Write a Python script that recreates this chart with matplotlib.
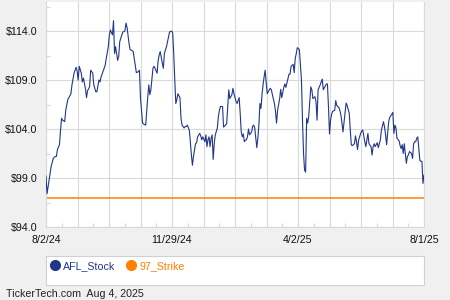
"""
AFL stock vs 97 strike chart
"""
import matplotlib
matplotlib.use('Agg')
import matplotlib.pyplot as plt
import numpy as np
from matplotlib.lines import Line2D
from matplotlib.patches import Rectangle

# position along the x axis, in days from 8/2/24
day = [0, 1, 3, 5, 7, 9, 10, 11, 13, 14, 15, 16, 18, 19, 21, 22, 24, 25, 27, 29,
       30, 31, 32, 34, 35, 36, 38, 39, 40, 42, 43, 45, 46, 48, 49, 51, 52, 53, 55, 57,
       58, 60, 61, 62, 64, 65, 66, 67, 69, 70, 71, 73, 74, 76, 77, 78, 80, 81, 83, 84,
       86, 87, 89, 90, 91, 93, 94, 96, 97, 98, 99, 100, 101, 103, 104, 105, 107, 108, 109, 110,
       112, 113, 114, 116, 117, 119, 121, 122, 123, 124, 125, 126, 127, 129, 130, 131, 133, 134, 135, 136,
       138, 139, 140, 141, 142, 144, 145, 146, 148, 149, 150, 151, 153, 154, 155, 156, 157, 158, 159, 160,
       161, 162, 163, 165, 166, 167, 168, 170, 171, 172, 174, 175, 176, 177, 179, 180, 181, 183, 184, 186,
       187, 188, 189, 190, 191, 192, 193, 194, 195, 196, 198, 199, 200, 201, 203, 204, 205, 206, 207, 208,
       209, 210, 211, 212, 213, 215, 216, 217, 218, 220, 221, 222, 223, 225, 226, 227, 229, 230, 231, 232,
       234, 235, 236, 238, 239, 240, 241, 242, 244, 246, 247, 248, 249, 250, 251, 252, 253, 254, 255, 256,
       257, 259, 260, 261, 262, 264, 265, 266, 267, 269, 270, 271, 272, 273, 274, 275, 276, 278, 279, 280,
       282, 283, 284, 285, 286, 288, 289, 290, 292, 293, 294, 295, 297, 298, 299, 300, 301, 303, 304, 305,
       307, 308, 309, 310, 311, 313, 314, 315, 316, 317, 319, 320, 321, 322, 323, 325, 326, 327, 328, 329,
       330, 331, 333, 334, 335, 336, 337, 338, 340, 341, 342, 343, 344, 345, 346, 347, 348, 349, 350, 352,
       353, 354, 355, 356, 357, 358, 360, 361, 362, 363, 364]

afl_stock = [99.2, 97.4, 98.8, 100.2, 101.0, 101.2, 101.2, 101.9, 102.4, 103.9,
             105.1, 104.9, 104.75, 105.9, 107.0, 107.2, 107.6, 108.5, 109.7, 110.3,
             109.9, 109.0, 110.4, 109.7, 108.8, 109.2, 108.1, 107.2, 107.9, 108.3,
             110.0, 109.7, 108.5, 107.8, 107.8, 109.0, 108.8, 109.3, 109.9, 110.5,
             111.2, 112.4, 113.6, 114.1, 113.6, 115.05, 111.7, 112.4, 111.0, 111.4,
             112.9, 113.6, 113.9, 114.0, 114.8, 114.4, 112.7, 112.1, 112.0, 111.9,
             110.5, 109.75, 109.85, 110.0, 107.1, 104.6, 104.5, 104.4, 105.9, 107.3,
             108.5, 107.5, 108.0, 110.2, 110.4, 110.2, 109.7, 111.0, 111.55, 111.9,
             110.7, 110.2, 111.7, 112.4, 112.9, 113.9, 114.0, 113.8, 111.7, 109.0,
             106.6, 107.0, 107.6, 107.2, 105.1, 104.4, 104.1, 104.25, 104.25, 104.4,
             103.9, 102.7, 101.35, 100.3, 101.2, 102.5, 102.6, 103.2, 103.55, 103.3,
             102.9, 103.2, 102.7, 103.4, 102.2, 102.9, 103.2, 102.2, 103.05, 103.4,
             100.9, 102.5, 103.4, 104.1, 105.3, 105.9, 106.3, 106.3, 104.2, 104.3,
             104.55, 106.3, 108.0, 107.1, 107.5, 108.15, 107.6, 106.8, 106.6, 107.2,
             105.6, 103.7, 103.2, 103.5, 102.7, 102.85, 102.9, 103.2, 104.0, 103.4,
             103.7, 104.3, 104.4, 104.1, 102.1, 103.05, 104.4, 106.6, 106.1, 107.5,
             108.5, 109.3, 110.0, 108.85, 107.6, 108.0, 108.15, 108.0, 107.5, 106.6,
             105.8, 104.6, 105.9, 107.1, 108.05, 107.2, 108.25, 108.6, 108.25, 108.7,
             109.6, 109.6, 110.4, 110.6, 109.75, 111.2, 111.7, 112.3, 112.1, 109.0,
             104.9, 101.5, 99.8, 99.6, 105.1, 104.6, 105.3, 106.8, 108.3, 108.0,
             107.1, 107.3, 106.8, 104.9, 108.0, 108.5, 108.8, 109.1, 108.0, 108.4,
             108.6, 108.6, 106.3, 103.5, 104.9, 105.5, 105.8, 105.9, 106.9, 106.4,
             106.2, 105.9, 105.4, 104.6, 103.7, 105.6, 106.65, 106.4, 105.6, 103.9,
             102.4, 102.3, 102.5, 103.3, 102.7, 101.9, 102.85, 103.55, 103.8, 103.9,
             102.7, 102.2, 102.9, 103.55, 102.5, 102.2, 101.35, 102.2, 102.5, 102.2,
             102.6, 102.1, 102.5, 102.9, 103.9, 104.75, 104.2, 103.4, 102.4, 103.55,
             104.75, 105.2, 105.5, 105.7, 103.55, 104.4, 104.1, 103.05, 102.8, 102.3,
             102.0, 102.4, 101.5, 102.5, 101.5, 100.5, 101.2, 101.35, 101.7, 101.5,
             101.0, 102.5, 102.7, 102.7, 103.05, 103.2, 100.8, 100.7, 100.7, 98.45,
             99.3]

strike = 97.0
x_labels = ['8/2/24', '11/29/24', '4/2/25', '8/1/25']
y_ticks = [94.0, 99.0, 104.0, 109.0, 114.0]
series_names = ['AFL_Stock', '97_Strike']

navy = '#22368a'
orange = '#ff7f00'
grid_c = '#d9d9d9'

plt.rcParams['font.family'] = ['Liberation Sans', 'DejaVu Sans']
fs = 7.7

fig = plt.figure(figsize=(4.5, 3), dpi=100, facecolor='#f0f0f0')
ax = fig.add_axes([46 / 450, 73 / 300, 378 / 450, 225 / 300])
ax.set_facecolor('white')

ax.plot(day, afl_stock, color=navy, lw=0.8, zorder=3)
ax.axhline(strike, color=orange, lw=1.1, zorder=2)

ax.set_xlim(0, 364)
ax.set_ylim(94, 116.96)

xt = np.linspace(0, 364, 13)
ax.set_xticks(xt)
lbls = [''] * 13
for i, t in enumerate(x_labels):
    lbls[i * 4] = t
ax.set_xticklabels(lbls)
ax.set_xticks((xt[:-1] + xt[1:]) / 2, minor=True)

ax.set_yticks(y_ticks)
ax.set_yticklabels(['$%.1f' % v for v in y_ticks])
ax.set_yticks(np.arange(96.5, 117, 5), minor=True)

ax.grid(True, which='major', color=grid_c, lw=0.8)
ax.set_axisbelow(True)
ax.tick_params(which='major', length=0, labelsize=fs, pad=6, colors='#111111')
ax.tick_params(which='minor', direction='in', length=3, color=grid_c, width=0.8)

for s in ['left', 'right', 'bottom']:
    ax.spines[s].set_color(grid_c)
    ax.spines[s].set_linewidth(0.8)
ax.spines['top'].set_visible(False)

# legend box
box = Rectangle((46 / 450, 15 / 300), 378 / 450, 29 / 300, transform=fig.transFigure,
                facecolor='white', edgecolor='#d0d0d0', lw=0.8)
fig.add_artist(box)

handles = [Line2D([], [], marker='o', ls='', color=navy, markersize=7),
           Line2D([], [], marker='o', ls='', color=orange, markersize=7)]
leg = fig.legend(handles, series_names, loc='center left',
                 bbox_to_anchor=(41 / 450, 1 - 266 / 300), frameon=False, ncol=2,
                 fontsize=fs, handlelength=0.8, handletextpad=0.35, columnspacing=1.1,
                 borderpad=0.4)
for txt, c in zip(leg.get_texts(), [navy, orange]):
    txt.set_color(c)

fig.text(6 / 450, 1 - 294 / 300, 'TickerTech.com  Aug 4, 2025', va='center',
         ha='left', fontsize=fs, color='#222222')

fig.savefig('out.png', dpi=100, facecolor=fig.get_facecolor())
